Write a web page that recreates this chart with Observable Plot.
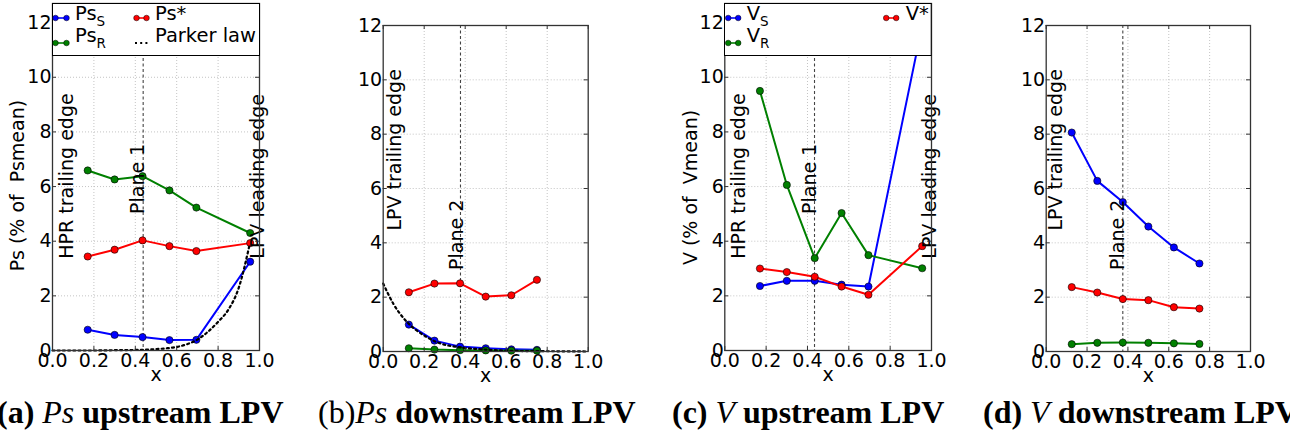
<!DOCTYPE html>
<html>
<head>
<meta charset="utf-8">
<script src="https://cdn.jsdelivr.net/npm/d3@7"></script>
<script src="https://cdn.jsdelivr.net/npm/@observablehq/plot@0.6"></script>
<style>
  html, body { margin: 0; padding: 0; background: #fff; }
  #root { position: relative; width: 1290px; height: 434px; overflow: hidden; font-family: "DejaVu Sans", sans-serif; }
  .panel { position: absolute; top: 0; }
  .cap { position: absolute; top: 396px; font-family: "Liberation Serif", serif; font-size: 32px; line-height: 32px; white-space: nowrap; color: #000; }
  .cap b { font-weight: bold; }
  .cap i { font-style: italic; font-weight: normal; }
</style>
</head>
<body>
<div id="root"></div>
<script>
// ---------------- data ----------------
const xUp   = [0.17, 0.30, 0.435, 0.565, 0.695, 0.955];
const xDown = [0.125, 0.25, 0.375, 0.5, 0.625, 0.75];

const psUpS    = [0.76, 0.57, 0.49, 0.38, 0.39, 3.25];
const psUpR    = [6.59, 6.26, 6.38, 5.86, 5.23, 4.30];
const psUpStar = [3.44, 3.69, 4.03, 3.82, 3.64, 3.93];
const parkerUpX = [0, 0.1, 0.2, 0.3, 0.4, 0.45, 0.5, 0.55, 0.6, 0.65, 0.7, 0.75, 0.8, 0.85, 0.9, 0.95];
const parkerUpY = [0, 0, 0, 0.01, 0.02, 0.03, 0.05, 0.08, 0.13, 0.23, 0.40, 0.68, 1.05, 1.5, 2.3, 3.8];

const psDownS    = [0.99, 0.40, 0.18, 0.12, 0.08, 0.06];
const psDownR    = [0.12, 0.07, 0.05, 0.04, 0.03, 0.03];
const psDownStar = [2.18, 2.50, 2.51, 2.02, 2.07, 2.64];
const parkerDownX = [0, 0.05, 0.1, 0.15, 0.2, 0.25, 0.3, 0.35, 0.4, 0.5, 0.6, 0.7, 0.8, 0.9, 1.0];
const parkerDownY = [2.5, 1.75, 1.22, 0.85, 0.59, 0.38, 0.25, 0.18, 0.13, 0.07, 0.03, 0.015, 0.01, 0.005, 0];

const vUpS    = [2.36, 2.55, 2.55, 2.41, 2.34, 11.9];
const vUpR    = [9.50, 6.06, 3.38, 5.03, 3.49, 3.01];
const vUpStar = [3.00, 2.87, 2.70, 2.34, 2.04, 3.82];

const vDownS    = [8.06, 6.28, 5.50, 4.60, 3.83, 3.24];
const vDownR    = [0.27, 0.32, 0.33, 0.32, 0.30, 0.28];
const vDownStar = [2.37, 2.17, 1.93, 1.89, 1.63, 1.58];

const xTicks = [0, 0.2, 0.4, 0.6, 0.8, 1.0];
const yTicks = [0, 2, 4, 6, 8, 10, 12];

const BLUE = "#0000ff", RED = "#ff0000", GREEN = "#008000";

// ---------------- helpers ----------------
const root = d3.select("#root");

function makePanel(cfg) {
  const fw = cfg.width - cfg.ml - cfg.mr;
  const fh = cfg.height - cfg.mt - cfg.mb;
  const marks = [
    Plot.gridX(xTicks.filter(t => t > 0 && t < 1), {stroke: "#c4c4c4", strokeOpacity: 1, strokeDasharray: "1,2"}),
    Plot.gridY(yTicks.filter(t => t > 0 && t < cfg.yMax - 0.01), {stroke: "#c4c4c4", strokeOpacity: 1, strokeDasharray: "1,2"}),
    Plot.ruleX([cfg.planeX], {stroke: "#444", strokeDasharray: "3,2.5", strokeWidth: 1.1})
  ];
  for (const s of cfg.series) {
    const rows = cfg.xs.map((x, i) => ({x, y: s.values[i]}));
    marks.push(Plot.line(rows, {x: "x", y: "y", stroke: s.color, strokeWidth: 2}));
    marks.push(Plot.dot(rows, {x: "x", y: "y", r: 3.6, fill: s.color, stroke: "#000", strokeWidth: 0.6}));
  }
  if (cfg.parker) {
    const rows = cfg.parker.x.map((x, i) => ({x, y: cfg.parker.y[i]}));
    marks.push(Plot.line(rows, {x: "x", y: "y", stroke: "#000", strokeWidth: 2.2, strokeDasharray: "2,3.2", curve: "monotone-x"}));
  }
  marks.push(Plot.text(cfg.labels, {x: "x", y: "y", text: "text", rotate: -90, textAnchor: "start", lineAnchor: "bottom", fontSize: 19, fill: "#000"}));
  // inner ticks
  marks.push(Plot.tickY(yTicks.filter(t => t <= cfg.yMax), {y: d => d, insetRight: fw - 4, stroke: "#333"}));
  marks.push(Plot.tickY(yTicks.filter(t => t <= cfg.yMax), {y: d => d, insetLeft: fw - 4, stroke: "#333"}));
  marks.push(Plot.tickX(xTicks, {x: d => d, insetTop: fh - 4, stroke: "#333"}));
  marks.push(Plot.tickX(xTicks, {x: d => d, insetBottom: fh - 4, stroke: "#333"}));
  // axes
  marks.push(Plot.axisX({ticks: xTicks, tickFormat: d3.format(".1f"), tickSize: 0, tickPadding: 3, fontSize: 19, label: null}));
  marks.push(Plot.axisY({ticks: yTicks, tickFormat: d => String(d), tickSize: 0, tickPadding: 1, fontSize: 19, label: null}));
  marks.push(Plot.text(["x"], {text: d => d, frameAnchor: "bottom", textAnchor: "middle", dy: 30, lineAnchor: "bottom", fontSize: 19}));
  if (cfg.ylabel) {
    marks.push(Plot.text([cfg.ylabel], {text: d => d, frameAnchor: "left", rotate: -90, textAnchor: "middle", dx: cfg.ylabelDx, dy: cfg.ylabelDy, lineAnchor: "middle", fontSize: 19}));
  }
  marks.push(Plot.frame({stroke: "#333", strokeWidth: 1.3}));

  const svg = Plot.plot({
    width: cfg.width, height: cfg.height,
    marginLeft: cfg.ml, marginRight: cfg.mr, marginTop: cfg.mt, marginBottom: cfg.mb,
    x: {domain: [0, 1]},
    y: {domain: [0, cfg.yMax]},
    style: {fontFamily: "DejaVu Sans", fontSize: "19px", color: "#000", background: "transparent", overflow: "visible"},
    marks
  });
  const wrap = root.append("div").attr("class", "panel").style("left", cfg.left + "px");
  wrap.node().appendChild(svg);
}

function makeLegend(box, items) {
  const svg = root.append("svg")
    .style("position", "absolute").style("left", box.left + "px").style("top", box.top + "px")
    .attr("width", box.width + 2).attr("height", box.height + 2)
    .style("font-family", "DejaVu Sans");
  svg.append("rect").attr("x", 0.5).attr("y", 0.5).attr("width", box.width).attr("height", box.height)
    .attr("fill", "#fff").attr("stroke", "#000").attr("stroke-width", 1);
  for (const it of items) {
    const x1 = it.sx1 - box.left, x2 = it.sx2 - box.left, y = it.sy - box.top;
    if (it.dotted) {
      svg.append("line").attr("x1", x1).attr("x2", x2).attr("y1", y).attr("y2", y)
        .attr("stroke", "#000").attr("stroke-width", 2.2).attr("stroke-dasharray", "2,3.2");
    } else {
      svg.append("line").attr("x1", x1).attr("x2", x2).attr("y1", y).attr("y2", y)
        .attr("stroke", it.color).attr("stroke-width", 1.6);
      for (const cx of [x1 + 1.5, x2 - 1.5]) {
        svg.append("circle").attr("cx", cx).attr("cy", y).attr("r", 2.8)
          .attr("fill", it.color).attr("stroke", "#000").attr("stroke-width", 0.5);
      }
    }
    const t = svg.append("text").attr("x", it.tx - box.left).attr("y", it.ty - box.top)
      .attr("font-size", 19.5).attr("fill", "#000").text(it.label);
    if (it.sub) t.append("tspan").attr("font-size", 13.5).attr("dy", 6).text(it.sub);
  }
}

// ---------------- panels ----------------
makePanel({
  left: 0, width: 300, height: 390, ml: 52, mr: 41, mt: 3, mb: 40, yMax: 12.7,
  xs: xUp, planeX: 0.438,
  series: [{values: psUpS, color: BLUE}, {values: psUpR, color: GREEN}, {values: psUpStar, color: RED}],
  parker: {x: parkerUpX, y: parkerUpY},
  labels: [{x: 0.10, y: 3.36, text: "HPR trailing edge"}, {x: 0.44, y: 5.0, text: "Plane 1"}, {x: 1.02, y: 3.36, text: "LPV leading edge"}],
  ylabel: "Ps (% of\u00a0 Psmean)", ylabelDx: -34.5, ylabelDy: 8.5
});
makePanel({
  left: 300, width: 330, height: 390, ml: 82.7, mr: 42.3, mt: 25, mb: 39, yMax: 12,
  xs: xDown, planeX: 0.377,
  series: [{values: psDownS, color: BLUE}, {values: psDownR, color: GREEN}, {values: psDownStar, color: RED}],
  parker: {x: parkerDownX, y: parkerDownY},
  labels: [{x: 0.085, y: 4.45, text: "LPV trailing edge"}, {x: 0.39, y: 3.0, text: "Plane 2"}]
});
makePanel({
  left: 640, width: 330, height: 390, ml: 84.3, mr: 39, mt: 3, mb: 40, yMax: 12.7,
  xs: xUp, planeX: 0.434,
  series: [{values: vUpS, color: BLUE}, {values: vUpR, color: GREEN}, {values: vUpStar, color: RED}],
  labels: [{x: 0.097, y: 3.36, text: "HPR trailing edge"}, {x: 0.439, y: 5.0, text: "Plane 1"}, {x: 1.02, y: 3.36, text: "LPV leading edge"}],
  ylabel: "V (% of\u00a0 Vmean)", ylabelDx: -34.3, ylabelDy: 10.5
});
makePanel({
  left: 970, width: 320, height: 390, ml: 75.7, mr: 40, mt: 25, mb: 39, yMax: 12,
  xs: xDown, planeX: 0.375,
  series: [{values: vDownS, color: BLUE}, {values: vDownR, color: GREEN}, {values: vDownStar, color: RED}],
  labels: [{x: 0.078, y: 4.45, text: "LPV trailing edge"}, {x: 0.383, y: 3.0, text: "Plane 2"}]
});

// ---------------- legends ----------------
makeLegend({left: 52, top: 3, width: 207, height: 52}, [
  {label: "Ps", sub: "S", color: BLUE, sx1: 54, sx2: 68, sy: 18, tx: 75, ty: 19.5},
  {label: "Ps", sub: "R", color: GREEN, sx1: 54, sx2: 68, sy: 43, tx: 75, ty: 42},
  {label: "Ps*", color: RED, sx1: 135, sx2: 148, sy: 18, tx: 155, ty: 19.5},
  {label: "Parker law", dotted: true, sx1: 135, sx2: 148, sy: 43, tx: 155, ty: 42}
]);
makeLegend({left: 724.3, top: 3, width: 206.7, height: 52}, [
  {label: "V", sub: "S", color: BLUE, sx1: 727, sx2: 740, sy: 18, tx: 747, ty: 19.5},
  {label: "V", sub: "R", color: GREEN, sx1: 727, sx2: 740, sy: 43, tx: 747, ty: 42},
  {label: "V*", color: RED, sx1: 885, sx2: 898, sy: 18, tx: 906, ty: 19.5}
]);

// ---------------- captions ----------------
const captions = [
  {left: -3, html: "<b>(a)</b> <i>Ps</i> <b>upstream LPV</b>"},
  {left: 318, html: "(b)<i>Ps</i> <b>downstream LPV</b>"},
  {left: 672, html: "<b>(c)</b> <i>V</i> <b>upstream LPV</b>"},
  {left: 983, html: "<b>(d)</b> <i>V</i> <b>downstream LPV</b>"}
];
for (const c of captions) {
  root.append("div").attr("class", "cap").style("left", c.left + "px").html(c.html);
}
</script>
</body>
</html>
